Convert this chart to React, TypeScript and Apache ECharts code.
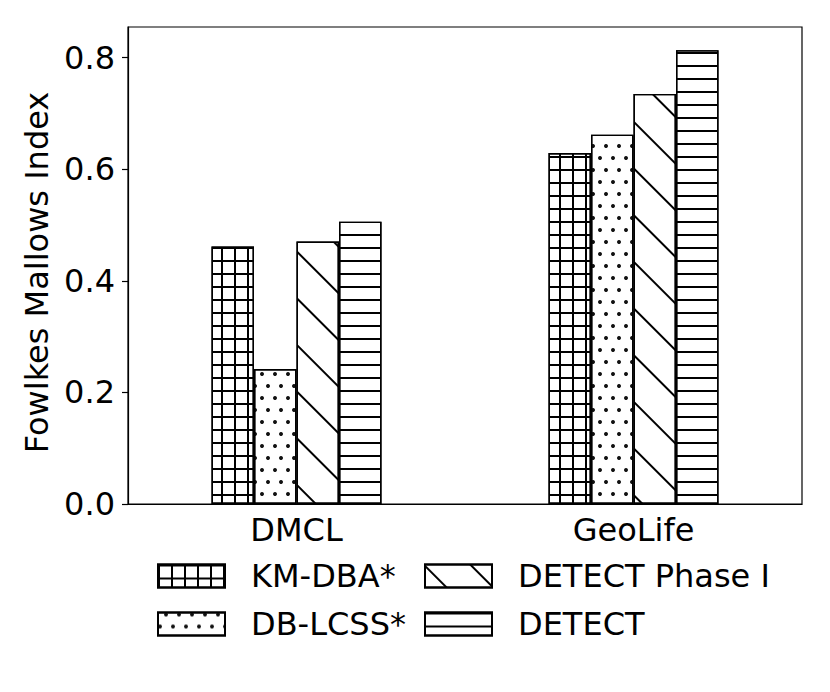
import React, { useEffect, useRef } from "react";
import * as echarts from "echarts";

const categories = ["DMCL", "GeoLife"];
const seriesNames = ["KM-DBA*", "DB-LCSS*", "DETECT Phase I", "DETECT"];
const kmDba = [0.4615, 0.629];
const dbLcss = [0.242, 0.662];
const phase1 = [0.4705, 0.735];
const detect = [0.506, 0.8135];
const yTicks = [0, 0.2, 0.4, 0.6, 0.8];
const yMax = 0.855;

const FONT = "DejaVu Sans";
const FS = 32;

const decals: any[] = [
  {
    symbol: "rect",
    symbolSize: 1,
    color: "#000000",
    dashArrayX: [
      [1, 0],
      [1.3, 10.4],
    ],
    dashArrayY: [1.3, 0, 10.4, 0],
  },
  {
    symbol: "circle",
    symbolSize: 1,
    color: "#111111",
    dashArrayX: [
      [3.6, 8.1],
      [0, 5.85, 3.6, 2.25],
    ],
    dashArrayY: [3.6, 7.4],
  },
  {
    symbol: "rect",
    symbolSize: 1,
    color: "#000000",
    dashArrayX: [1, 0],
    dashArrayY: [1.4, 30.4],
    rotation: Math.PI / 4,
  },
  {
    symbol: "rect",
    symbolSize: 1,
    color: "#000000",
    dashArrayX: [1, 0],
    dashArrayY: [1.4, 10.3],
  },
];

const seriesData = [kmDba, dbLcss, phase1, detect];

export default function App() {
  const ref = useRef<HTMLDivElement>(null);
  useEffect(() => {
    document.body.style.margin = "0";
    const chart = echarts.init(ref.current!, undefined, { renderer: "svg" });
    const legendText = {
      fontFamily: FONT,
      fontSize: FS,
      lineHeight: 32,
      color: "#000",
      padding: [0, 0, 0, 21],
    };
    const option: any = {
      animation: false,
      backgroundColor: "#ffffff",
      textStyle: { fontFamily: FONT, color: "#000" },
      grid: {
        left: 128,
        right: 28,
        top: 27,
        bottom: 188,
        show: true,
        borderColor: "#000",
        borderWidth: 1.2,
        containLabel: false,
      },
      legend: [
        {
          data: [seriesNames[0], seriesNames[1]],
          orient: "vertical",
          left: 157,
          top: 560,
          itemWidth: 67,
          itemHeight: 23,
          itemGap: 16,
          icon: "rect",
          padding: 0,
          textStyle: legendText,
        },
        {
          data: [seriesNames[2], seriesNames[3]],
          orient: "vertical",
          left: 424,
          top: 560,
          itemWidth: 67,
          itemHeight: 23,
          itemGap: 16,
          icon: "rect",
          padding: 0,
          textStyle: legendText,
        },
      ],
      xAxis: {
        type: "category",
        data: categories,
        axisLine: { lineStyle: { color: "#000", width: 1.2 } },
        axisTick: { alignWithLabel: true, length: 6, lineStyle: { color: "#000", width: 1.2 } },
        axisLabel: { fontFamily: FONT, fontSize: FS, color: "#000", margin: 10 },
        splitLine: { show: false },
      },
      yAxis: {
        type: "value",
        min: 0,
        max: yMax,
        name: "Fowlkes Mallows Index",
        nameLocation: "middle",
        nameRotate: 90,
        nameGap: 75,
        nameTextStyle: { fontFamily: FONT, fontSize: FS, color: "#000", padding: [0, 14, 0, 0] },
        axisLine: { show: true, lineStyle: { color: "#000", width: 1.2 } },
        axisTick: { show: true, length: 6, customValues: yTicks, lineStyle: { color: "#000", width: 1.2 } },
        axisLabel: {
          fontFamily: FONT,
          fontSize: FS,
          color: "#000",
          margin: 13,
          customValues: yTicks,
          formatter: (v: number) => v.toFixed(1),
        },
        splitLine: { show: false },
      },
      series: seriesNames.map((name, i) => ({
        name,
        type: "bar",
        data: seriesData[i],
        barWidth: 42.5,
        barGap: "0%",
        itemStyle: {
          color: "#ffffff",
          borderColor: "#000000",
          borderWidth: 1.4,
          decal: decals[i],
        },
        emphasis: { disabled: true },
      })),
    };
    chart.setOption(option);
    return () => chart.dispose();
  }, []);
  return <div ref={ref} style={{ width: 830, height: 692 }} />;
}
